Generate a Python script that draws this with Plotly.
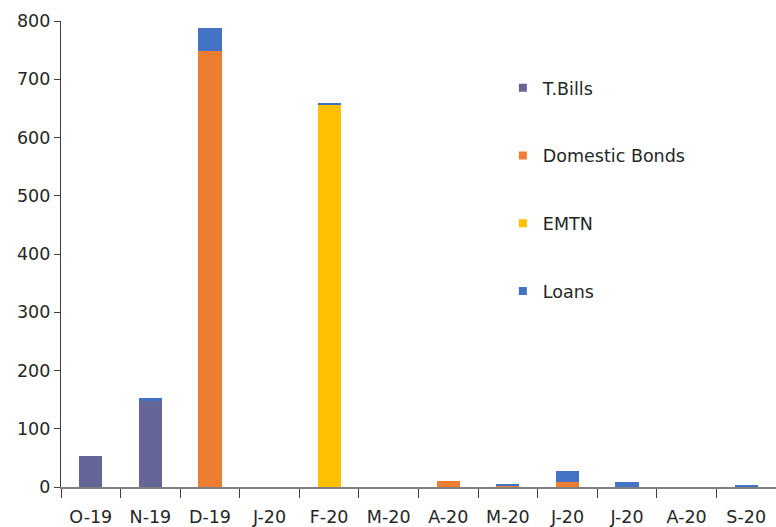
import plotly.graph_objects as go

# Monthly issuance by instrument
months = ["O-19", "N-19", "D-19", "J-20", "F-20", "M-20",
          "A-20", "M-20", "J-20", "J-20", "A-20", "S-20"]
t_bills = [53, 148, 0, 0, 0, 0, 0, 0, 0, 0, 0, 0]
domestic_bonds = [0, 0, 748, 0, 0, 0, 11, 2, 8, 0, 0, 0]
emtn = [0, 0, 0, 0, 657, 0, 0, 1, 0, 0, 0, 0]
loans = [0, 5, 40, 0, 3, 0, 0, 3, 19, 8, 0, 4]
y_ticks = [0, 100, 200, 300, 400, 500, 600, 700, 800]

series = [
    ("T.Bills", t_bills, "#656598"),
    ("Domestic Bonds", domestic_bonds, "#ED7D31"),
    ("EMTN", emtn, "#FFC000"),
    ("Loans", loans, "#4472C4"),
]

x_pos = list(range(len(months)))
font_family = "DejaVu Sans, Verdana, sans-serif"
axis_color = "#7f7f7f"

fig = go.Figure()
for i, (name, vals, color) in enumerate(series):
    fig.add_trace(go.Bar(
        x=x_pos, y=vals, name=name, marker_color=color,
        marker_line_width=0, showlegend=False,
    ))
    # small square legend key
    fig.add_trace(go.Scatter(
        x=[None], y=[None], mode="markers", name=name,
        marker=dict(symbol="square", size=8, color=color),
        legendgroup=f"g{i}", showlegend=True,
    ))

fig.update_layout(
    width=776, height=527,
    margin=dict(l=61, r=0, t=21, b=40),
    barmode="stack", bargap=0.61,
    plot_bgcolor="white", paper_bgcolor="white",
    font=dict(family=font_family, size=17.5, color="#262626"),
    legend=dict(
        x=0.618, y=0.895, xanchor="left", yanchor="top",
        traceorder="grouped", tracegroupgap=42,
        font=dict(size=17.5, color="#262626"),
        bgcolor="rgba(0,0,0,0)", itemwidth=30,
    ),
    xaxis=dict(
        range=[-0.5, len(months) - 0.5],
        tickmode="array", tickvals=x_pos, ticktext=months,
        ticks="", showline=True, linecolor=axis_color, linewidth=1.5,
        showgrid=False, zeroline=False, ticklabelstandoff=13,
        minor=dict(tick0=-0.5, dtick=1, ticks="outside", ticklen=9,
                   tickcolor="#404040", tickwidth=1.2, showgrid=False),
    ),
    yaxis=dict(
        range=[0, 800], tickmode="array", tickvals=y_ticks,
        ticks="outside", ticklen=6, tickcolor="#404040", tickwidth=1.2,
        showline=True, linecolor="#404040", linewidth=1.2,
        showgrid=False, zeroline=False,
    ),
)

fig.write_html("out.html")
